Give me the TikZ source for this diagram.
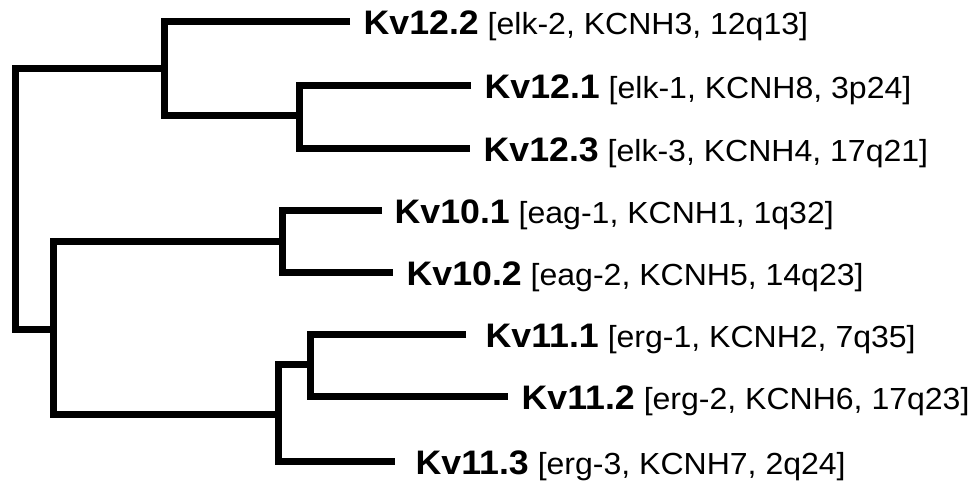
\documentclass[tikz,border=0pt]{standalone}
\usepackage{fontspec}
\newfontfamily\labfont[FakeStretch=1.05]{Liberation Sans}
\tikzset{
  branch/.style={line width=7pt, line join=miter, line cap=butt, black},
  leaflabel/.style={anchor=base west, inner sep=0pt, font=\labfont\bfseries\fontsize{34}{38}\selectfont},
}
\newcommand{\gl}[2]{#1{\mdseries\fontsize{30.5}{34}\selectfont\ #2}}
\begin{document}
\begin{tikzpicture}[x=1pt,y=-1pt]
\fill[white] (0,0) rectangle (976,486);
\useasboundingbox (0,0) rectangle (976,486);
% leaf tips
\coordinate (t122) at (350,22);
\coordinate (t121) at (471,85.5);
\coordinate (t123) at (470,148.5);
\coordinate (t101) at (382,210.5);
\coordinate (t102) at (393,272.5);
\coordinate (t111) at (466,334.5);
\coordinate (t112) at (508,396.5);
\coordinate (t113) at (395,461);
% internal nodes
\coordinate (root) at (15,200);
\coordinate (nA) at (164.5,69);
\coordinate (nA2) at (299.5,116);
\coordinate (nB) at (53.5,329.5);
\coordinate (nB1) at (282,241.5);
\coordinate (nB2) at (278.5,414.5);
\coordinate (nB3) at (310.5,364.5);
% branches
\draw[branch] (nA) -| (root) |- (nB);
\draw[branch] (t122) -| (nA) |- (nA2);
\draw[branch] (t121) -| (nA2) |- (t123);
\draw[branch] (nB1) -| (nB) |- (nB2);
\draw[branch] (t101) -| (nB1) |- (t102);
\draw[branch] (nB3) -| (nB2) |- (t113);
\draw[branch] (t111) -| (nB3) |- (t112);
% labels
\node[leaflabel] (L122) at (363.5,35) {\gl{Kv12.2}{[elk-2, KCNH3, 12q13]}};
\node[leaflabel] (L121) at (484.5,98.5) {\gl{Kv12.1}{[elk-1, KCNH8, 3p24]}};
\node[leaflabel] (L123) at (483.5,161.5) {\gl{Kv12.3}{[elk-3, KCNH4, 17q21]}};
\node[leaflabel] (L101) at (394.5,223.5) {\gl{Kv10.1}{[eag-1, KCNH1, 1q32]}};
\node[leaflabel] (L102) at (406.5,285.5) {\gl{Kv10.2}{[eag-2, KCNH5, 14q23]}};
\node[leaflabel] (L111) at (485.5,347.5) {\gl{Kv11.1}{[erg-1, KCNH2, 7q35]}};
\node[leaflabel] (L112) at (521.5,409.5) {\gl{Kv11.2}{[erg-2, KCNH6, 17q23]}};
\node[leaflabel] (L113) at (415.5,474) {\gl{Kv11.3}{[erg-3, KCNH7, 2q24]}};
\end{tikzpicture}
\end{document}
